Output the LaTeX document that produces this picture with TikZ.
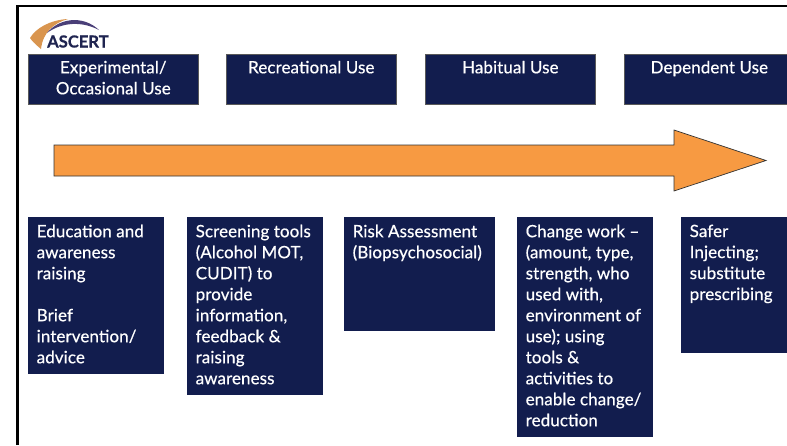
\documentclass[tikz,border=0pt]{standalone}
\usepackage{fontspec}
\setmainfont{Lato}[FakeBold=0.5]
\definecolor{navy}{HTML}{121D4E}
\definecolor{arroworange}{HTML}{F79A42}
\definecolor{logoblue}{HTML}{1F2450}
\definecolor{logoorange}{HTML}{D9954F}
\definecolor{logopurple}{HTML}{4A3F78}
\tikzset{
  hdr/.style={fill=navy,draw=gray!70!black,line width=0.6pt,anchor=north west,inner sep=0pt,text=white,align=center,font=\fontsize{17}{21}\selectfont\addfontfeature{LetterSpace=0.5}},
  low/.style={fill=navy,anchor=north west,inner sep=0pt,text=white,font=\fontsize{17}{21}\selectfont\addfontfeature{LetterSpace=0.5}}
}
\newcommand{\hdrtext}[3]{\parbox[t][#2pt][t]{#1pt}{\centering\vspace{7pt}#3}}
\newcommand{\lowtext}[3]{\hspace{8.5pt}\parbox[t][#2pt][t]{\dimexpr#1pt-8.5pt\relax}{\raggedright\vspace{7.5pt}#3}}
\begin{document}
\begin{tikzpicture}[x=1pt,y=-1pt]
\useasboundingbox (0,0) rectangle (787,445);
\fill[white] (0,0) rectangle (787,445);
\draw[line width=2.2pt,black] (17.5,445) -- (17.5,6) -- (787,6);
% logo
\fill[logoorange] (41,49) .. controls (35,44) and (32,41) .. (30,38) .. controls (36,28) and (50,20) .. (68,19) .. controls (54,23) and (43,32) .. (41,49) -- cycle;
\fill[logopurple] (47,33) .. controls (58,19) and (82,14) .. (99,30) .. controls (82,21) and (62,22) .. (47,33) -- cycle;
\node[anchor=base west,inner sep=0pt,text=logoblue,font=\fontsize{16.6}{17}\bfseries] (logo) at (47,47.5) {ASCERT};
% headers
\node[hdr] (h1) at (28,53.5) {\hdrtext{170}{50}{Experimental/\\Occasional Use}};
\node[hdr] (h2) at (226,53.5) {\hdrtext{170}{50}{Recreational Use}};
\node[hdr] (h3) at (425,53.5) {\hdrtext{170}{50}{Habitual Use}};
\node[hdr] (h4) at (624,53.5) {\hdrtext{170}{50}{Dependent Use}};
% arrow
\filldraw[fill=arroworange,draw=black!80,line width=0.7pt] (54,145) -- (674,145) -- (674,130) -- (766,160.5) -- (674,191) -- (674,176) -- (54,176) -- cycle;
% lower boxes
\node[low] (b1) at (28,217) {\lowtext{136}{157}{Education and\\awareness\\raising\\[21pt]Brief\\intervention/\\advice}};
\node[low] (b2) at (187,217) {\lowtext{136}{178}{Screening tools\\(Alcohol MOT,\\CUDIT) to\\provide\\information,\\feedback \&\\raising\\awareness}};
\node[low] (b3) at (344,217) {\lowtext{151}{114}{Risk Assessment\\(Biopsychosocial)}};
\node[low] (b4) at (517,217) {\lowtext{136}{220}{Change work –\\(amount, type,\\strength, who\\used with,\\environment of\\use); using\\tools \&\\activities to\\enable change/\\reduction}};
\node[low] (b5) at (681,217) {\lowtext{110}{136}{Safer\\Injecting;\\substitute\\prescribing}};
\end{tikzpicture}
\end{document}
